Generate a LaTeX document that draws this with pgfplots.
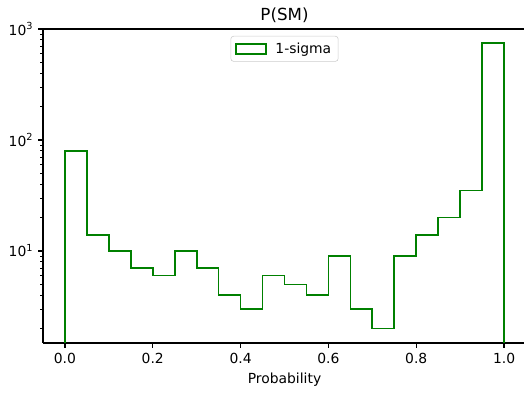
\documentclass[border=0pt]{standalone}
\usepackage{pgfplots}
\pgfplotsset{compat=1.18}
\usepackage{fontspec}
\setmainfont{DejaVu Sans}
\definecolor{histgreen}{HTML}{008000}
\begin{document}
\begin{tikzpicture}
\path[use as bounding box] (0,0) rectangle (377.28pt,282.96pt);
\begin{axis}[
  at={(30.96pt,36pt)}, anchor=south west,
  scale only axis, width=347.76pt, height=226.08pt,
  ymode=log, xmin=-0.05, xmax=1.05, ymin=1.483, ymax=1000,
  axis y line*=left,
  xtick={0,0.2,0.4,0.6,0.8,1.0},
  xticklabels={0.0,0.2,0.4,0.6,0.8,1.0},
  xtick pos=bottom,
  ytick={10,100,1000},
  yticklabels={10\textsuperscript{1},10\textsuperscript{2},10\textsuperscript{3}},
  minor ytick={2,3,4,5,6,7,8,9,20,30,40,50,60,70,80,90,200,300,400,500,600,700,800,900},
  tick align=outside,
  major tick length=3.5pt, minor tick length=2pt,
  every major tick/.style={black, line width=0.8pt},
  every minor tick/.style={black, line width=0.6pt},
  axis line style={line width=0.8pt, black},
  tick label style={font=\fontsize{10}{12}\selectfont},
  title={P(SM)},
  every axis title shift=0pt,
  title style={at={(0.5,1)}, anchor=base, yshift=6pt, font=\fontsize{12}{14}\selectfont},
  xlabel={Probability},
  xlabel style={at={(0.5,0)}, anchor=base, yshift=-29.5pt, font=\fontsize{10}{12}\selectfont},
  legend style={at={(0.5,1)}, anchor=north, yshift=-5pt, draw=black!20, rounded corners=2pt,
    font=\fontsize{10}{12}\selectfont, legend cell align=left, inner xsep=3pt, inner ysep=2.5pt},
  legend image code/.code={\draw[histgreen, line width=1.2pt, sharp corners] (0pt,-3.6pt) rectangle (21.6pt,3.6pt);
    \path[draw=none, fill=none] (0pt,0pt) -- (26.5pt,0pt);},
]
\addplot[histgreen, line width=1.2pt, line join=miter] coordinates {
(0,0.1)(0,80)(0.05,80)(0.05,14)(0.1,14)(0.1,10)(0.15,10)(0.15,7)(0.2,7)(0.2,6)
(0.25,6)(0.25,10)(0.3,10)(0.3,7)(0.35,7)(0.35,4)(0.4,4)(0.4,3)(0.45,3)(0.45,6)
(0.5,6)(0.5,5)(0.55,5)(0.55,4)(0.6,4)(0.6,9)(0.65,9)(0.65,3)(0.7,3)(0.7,2)
(0.75,2)(0.75,9)(0.8,9)(0.8,14)(0.85,14)(0.85,20)(0.9,20)(0.9,35)(0.95,35)(0.95,750)
(1,750)(1,0.1)};
\addlegendentry{1-sigma}
\end{axis}
\end{tikzpicture}
\end{document}
